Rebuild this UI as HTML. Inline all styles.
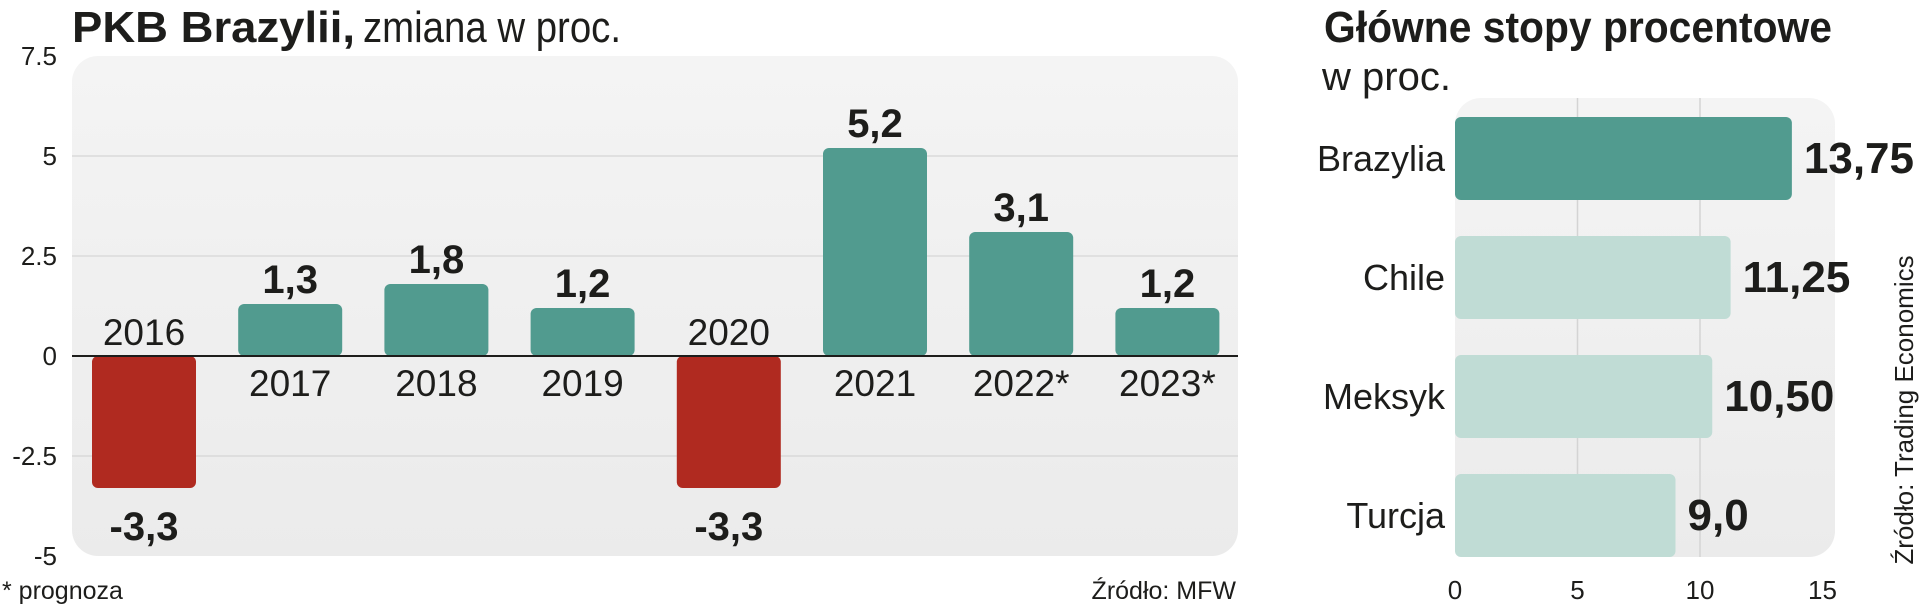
<!DOCTYPE html>
<html><head><meta charset="utf-8"><style>
html,body{margin:0;padding:0;background:#fff;}
svg{display:block;}
text{font-family:"Liberation Sans",sans-serif;fill:#1d1d1b;}
.nar{font-family:"Liberation Sans Narrow","Liberation Sans",sans-serif;}
</style></head><body>
<svg id="c" width="1920" height="608" viewBox="0 0 1920 608">
<defs>
<linearGradient id="pg" x1="0" y1="0" x2="0" y2="1"><stop offset="0" stop-color="#f4f4f4"/><stop offset="1" stop-color="#ebebeb"/></linearGradient>
</defs>
<g id="left">
<text x="72" y="42" font-size="44"><tspan class="nar" font-weight="bold" textLength="283" lengthAdjust="spacingAndGlyphs">PKB Brazylii,</tspan><tspan dx="8" font-weight="300" textLength="258" lengthAdjust="spacingAndGlyphs">zmiana w proc.</tspan></text>
<rect x="72" y="56" width="1166" height="500" rx="26" fill="url(#pg)"/>
<g id="gy"></g><g id="gb"></g>
<text x="2" y="599" font-size="25">* prognoza</text>
<text x="1236" y="599" font-size="25" text-anchor="end">Źródło: MFW</text>
</g>
<g id="right">
<text x="1324" y="42" font-size="44" font-weight="bold" class="nar" textLength="508" lengthAdjust="spacingAndGlyphs">Główne stopy procentowe</text>
<text x="1322" y="90" font-size="40" font-weight="300">w proc.</text>
<rect x="1455" y="98" width="380" height="459" rx="26" fill="url(#pg)"/>
<g id="rg"></g><g id="rb"></g>
<text transform="translate(1913,410) rotate(-90)" font-size="26" font-weight="300" text-anchor="middle">Źródło: Trading Economics</text>
</g>
</svg>
<script>
const years = ["2016","2017","2018","2019","2020","2021","2022*","2023*"];
const gdp = [-3.3,1.3,1.8,1.2,-3.3,5.2,3.1,1.2];
const gdpLabels = ["-3,3","1,3","1,8","1,2","-3,3","5,2","3,1","1,2"];
const yTicks = [7.5,5,2.5,0,-2.5,-5];
const yTickLabels = ["7.5","5","2.5","0","-2.5","-5"];
const countries = ["Brazylia","Chile","Meksyk","Turcja"];
const rates = [13.75,11.25,10.5,9.0];
const rateLabels = ["13,75","11,25","10,50","9,0"];
const xTicks = [0,5,10,15];
const xTickLabels = ["0","5","10","15"];

const NS="http://www.w3.org/2000/svg";
function mk(tag,attrs,parent,txt){const e=document.createElementNS(NS,tag);for(const k in attrs)e.setAttribute(k,attrs[k]);if(txt!==undefined)e.textContent=txt;parent.appendChild(e);return e;}
const yS=v=>356-v*40;
const xC=i=>144+i*146.2;
const gy=document.getElementById('gy'), gb=document.getElementById('gb');
yTicks.forEach((t,i)=>{
  if(t!==0&&t!==7.5&&t!==-5){const l=mk('line',{x1:72,x2:1238,y1:yS(t),y2:yS(t),stroke:'#dadada','stroke-width':1.5},gy);
  
  }
  const tx=mk('text',{x:57,y:yS(t)+9,'font-size':26,'font-weight':300,'text-anchor':'end',fill:'#333'},gy,yTickLabels[i]);
  
  
});
gdp.forEach((v,i)=>{
  const cx=xC(i), y0=yS(0), y1=yS(v);
  const r=mk('rect',{x:cx-52,y:Math.min(y0,y1),width:104,height:Math.abs(y1-y0),rx:6,fill:v<0?'#b02a20':'#519b8f'},gb);
  
  
  const vl=mk('text',{x:cx,y:v<0?y1+52:y1-11,'font-size':40,'font-weight':'bold','text-anchor':'middle',class:'nar'},gb,gdpLabels[i]);
  
  
  const yl=mk('text',{x:cx,y:v<0?y0-11:y0+40,'font-size':37,'text-anchor':'middle'},gb,years[i]);
  
  
});
const zl=mk('line',{x1:72,x2:1238,y1:356,y2:356,stroke:'#1d1d1b','stroke-width':2},gb);



const xS=v=>1455+v*24.5;
const yR=i=>158+i*119;
const rg=document.getElementById('rg'), rb=document.getElementById('rb');
xTicks.forEach((t,i)=>{
  if(t===5||t===10){const l=mk('line',{x1:xS(t),x2:xS(t),y1:98,y2:557,stroke:'#d4d4d4','stroke-width':1.5},rg);
  
  }
  const tx=mk('text',{x:xS(t),y:599,'font-size':26,'font-weight':300,'text-anchor':'middle',fill:'#333'},rg,xTickLabels[i]);
  
  
});
rates.forEach((v,i)=>{
  const cy=yR(i);
  const r=mk('rect',{x:1455,y:cy-41,width:xS(v)-1455,height:83,rx:6,fill:i===0?'#519b8f':'#c0dcd5'},rb);
  
  
  const cl=mk('text',{x:1445,y:cy+13,'font-size':36,'text-anchor':'end'},rb,countries[i]);
  
  
  const vl=mk('text',{x:xS(v)+12,y:cy+15,'font-size':44,'font-weight':'bold',class:'nar'},rb,rateLabels[i]);
  
  
});
</script>
</body></html>
